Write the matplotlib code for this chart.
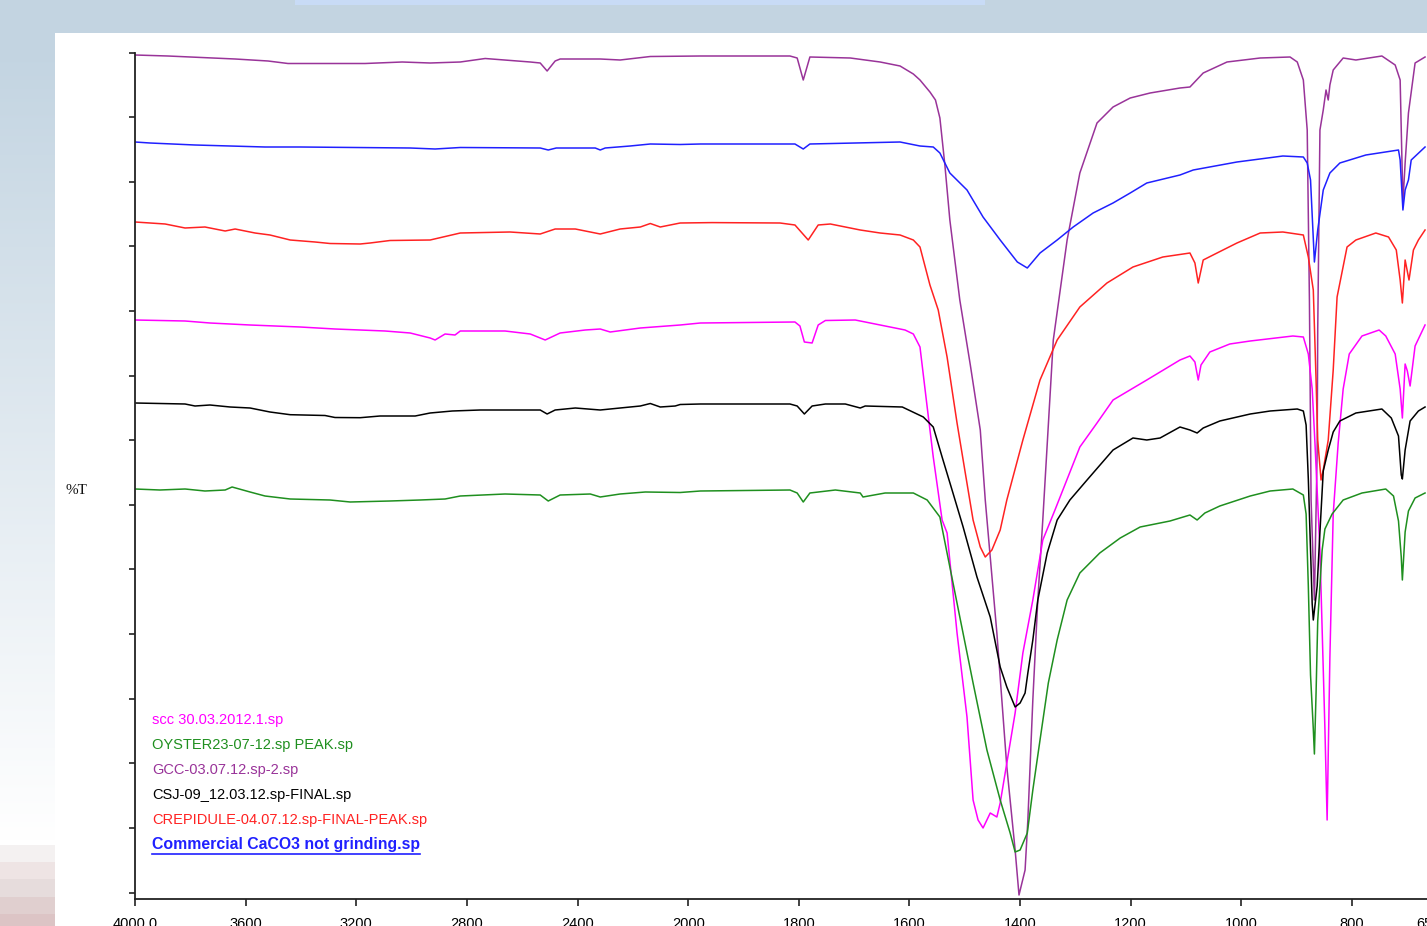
import numpy as np
import matplotlib
matplotlib.use('Agg')
import matplotlib.pyplot as plt
from matplotlib.lines import Line2D

# FTIR spectra, wavenumber (cm-1) and offset %T (arbitrary stacked units)
gcc_w = [4000, 3881, 3638, 3519, 3447, 3168, 3034, 2933, 2824, 2734, 2571, 2535, 2510, 2481, 2463,
         2318, 2246, 2137, 1978, 1816, 1803, 1792, 1780, 1707, 1653, 1617, 1593, 1581, 1563, 1553,
         1545, 1536, 1527, 1518, 1509, 1490, 1472, 1463, 1442, 1424, 1409, 1402, 1391, 1386, 1377,
         1368, 1359, 1340, 1315, 1292, 1261, 1232, 1201, 1165, 1111, 1093, 1069, 1026, 966, 912,
         899, 888, 881, 877, 874, 868, 863, 862, 858, 852, 847, 843, 840, 834, 816, 793, 746, 722,
         713, 711, 708, 704, 698, 686, 668]
gcc_t = [83.75, 83.65, 83.35, 83.15, 82.9, 82.9, 83.05, 82.95, 83.05, 83.4, 83.05, 82.95, 82.15, 83.15, 83.35,
         83.35, 83.25, 83.6, 83.65, 83.65, 83.45, 81.25, 83.55, 83.45, 83.05, 82.65, 81.85, 81.25, 80.05, 79.25,
         77.45, 72.75, 67.25, 63.25, 59.25, 52.75, 46.25, 39.25, 25.95, 12.55, 4.25, -0.25, 2.25, 7.25, 19.25,
         29.25, 37.25, 55.25, 65.25, 71.95, 76.95, 78.55, 79.45, 79.95, 80.45, 80.55, 81.95, 83.05, 83.45, 83.55,
         83.05, 81.25, 76.25, 59.25, 39.25, 29.25, 44.25, 56.25, 76.25, 78.25, 80.25, 79.25, 80.75, 82.25, 83.45, 83.25, 83.65, 82.75,
         81.25, 76.25, 69.0, 72.95, 77.95, 82.95, 83.55]

caco3_w = [4000, 3946, 3783, 3530, 3403, 3005, 2915, 2824, 2535, 2506, 2477, 2336, 2318, 2300, 2210,
           2137, 2029, 1978, 1807, 1792, 1780, 1698, 1617, 1581, 1557, 1545, 1527, 1496, 1467, 1436,
           1405, 1387, 1364, 1333, 1304, 1268, 1232, 1201, 1171, 1111, 1087, 1008, 925, 888, 881,
           875, 868, 862, 852, 840, 822, 775, 716, 713, 708, 704, 698, 693, 668]
caco3_t = [75.05, 74.95, 74.75, 74.55, 74.55, 74.45, 74.35, 74.5, 74.45, 74.25, 74.45, 74.45, 74.25, 74.45, 74.65,
           74.85, 74.8, 74.85, 74.85, 74.35, 74.85, 74.95, 75.05, 74.65, 74.55, 73.95, 71.95, 70.25, 67.55, 65.25,
           63.05, 62.45, 63.95, 65.25, 66.55, 67.95, 68.95, 69.95, 70.95, 71.75, 72.25, 73.05, 73.65, 73.55, 72.95,
           71.25, 63.05, 66.25, 70.25, 71.95, 72.95, 73.75, 74.25, 73.25, 68.25, 70.25, 71.25, 73.25, 74.55]

crep_w = [4000, 3891, 3819, 3747, 3674, 3638, 3566, 3512, 3439, 3349, 3295, 3186, 3150, 3078, 2933,
          2824, 2644, 2535, 2481, 2408, 2318, 2246, 2173, 2137, 2101, 2029, 1957, 1834, 1807, 1783,
          1765, 1743, 1689, 1653, 1617, 1593, 1581, 1563, 1548, 1532, 1514, 1500, 1485, 1472, 1463,
          1451, 1436, 1424, 1395, 1364, 1333, 1292, 1243, 1196, 1142, 1093, 1084, 1078, 1069, 1044,
          1008, 966, 925, 888, 879, 870, 865, 862, 856, 852, 843, 834, 827, 809, 793, 757, 734,
          720, 713, 709, 704, 697, 689, 680, 668]
crep_t = [67.05, 66.85, 66.45, 66.55, 66.15, 66.35, 65.95, 65.75, 65.25, 65.05, 64.9, 64.85, 64.95, 65.2, 65.25,
          65.95, 66.05, 65.85, 66.35, 66.35, 65.85, 66.35, 66.55, 66.9, 66.55, 66.95, 66.99, 66.95, 66.75, 65.25,
          66.75, 66.85, 66.25, 65.95, 65.75, 65.25, 64.55, 60.75, 58.25, 53.55, 46.95, 42.25, 37.25, 34.55, 33.55,
          34.25, 36.25, 39.25, 45.25, 51.25, 55.25, 58.55, 60.95, 62.55, 63.55, 63.95, 62.95, 60.95, 63.25, 63.95,
          64.95, 65.95, 66.05, 65.75, 63.55, 60.25, 51.25, 45.25, 41.25, 42.25, 45.25, 52.25, 59.55, 64.55, 65.25, 65.95, 65.55,
          64.25, 61.25, 58.95, 63.25, 61.25, 64.25, 65.25, 66.25]

scc_w = [4000, 3819, 3729, 3584, 3403, 3277, 3096, 3005, 2933, 2915, 2879, 2843, 2824, 2662, 2571,
         2517, 2463, 2372, 2318, 2282, 2173, 2029, 1978, 1807, 1798, 1790, 1776, 1765, 1752, 1698,
         1671, 1635, 1608, 1593, 1581, 1568, 1557, 1541, 1532, 1514, 1496, 1485, 1476, 1467, 1454,
         1442, 1436, 1424, 1409, 1395, 1377, 1359, 1337, 1292, 1261, 1232, 1171, 1111, 1093, 1084,
         1078, 1073, 1057, 1021, 984, 907, 888, 879, 872, 867, 858, 849, 845, 840, 834, 825, 816,
         805, 782, 751, 739, 722, 713, 709, 704, 700, 695, 686, 668]
scc_t = [57.25, 57.15, 56.95, 56.75, 56.55, 56.35, 56.15, 55.95, 55.45, 55.25, 55.85, 55.75, 56.15, 56.15, 55.85,
         55.25, 55.95, 56.25, 56.35, 56.05, 56.45, 56.75, 56.95, 57.05, 56.65, 55.05, 54.95, 56.75, 57.2, 57.25,
         56.95, 56.55, 56.25, 55.85, 54.55, 48.55, 43.55, 37.25, 35.95, 25.95, 17.55, 9.25, 7.25, 6.45, 7.95,
         7.55, 8.95, 12.95, 17.95, 23.95, 29.25, 35.25, 38.25, 44.55, 46.95, 49.25, 51.25, 53.25, 53.65, 53.05,
         51.25, 52.75, 54.05, 54.85, 55.15, 55.65, 55.55, 53.85, 50.35, 44.95, 34.25, 16.35, 7.25, 23.55, 37.85, 44.95, 50.35,
         53.85, 55.65, 56.25, 55.65, 53.85, 50.35, 47.45, 52.85, 52.15, 50.65, 54.65, 56.75]

csj_w = [4000, 3819, 3783, 3729, 3656, 3584, 3512, 3439, 3313, 3277, 3186, 3114, 2987, 2933, 2853,
         2752, 2535, 2510, 2481, 2408, 2318, 2246, 2173, 2137, 2101, 2047, 2029, 1978, 1816, 1803,
         1790, 1776, 1752, 1716, 1689, 1680, 1613, 1575, 1557, 1541, 1523, 1503, 1478, 1454, 1436,
         1424, 1409, 1400, 1391, 1386, 1377, 1368, 1351, 1333, 1310, 1279, 1232, 1196, 1171, 1147,
         1111, 1093, 1080, 1069, 1039, 984, 948, 899, 888, 883, 879, 875, 872, 870, 863, 858, 852,
         843, 834, 822, 793, 746, 729, 716, 711, 709, 704, 695, 680, 668]
csj_t = [48.95, 48.85, 48.65, 48.75, 48.55, 48.45, 48.05, 47.78, 47.7, 47.5, 47.48, 47.65, 47.65, 47.95, 48.15,
         48.25, 48.25, 47.85, 48.25, 48.45, 48.25, 48.45, 48.65, 48.9, 48.55, 48.65, 48.8, 48.85, 48.85, 48.65,
         47.85, 48.65, 48.85, 48.85, 48.45, 48.65, 48.55, 47.55, 46.55, 43.55, 40.25, 36.55, 31.55, 27.55, 22.55,
         20.55, 18.55, 18.95, 19.95, 21.95, 25.25, 29.25, 33.95, 37.25, 39.25, 41.25, 44.25, 45.45, 45.25, 45.45,
         46.55, 46.25, 45.95, 46.45, 47.15, 47.85, 48.15, 48.35, 48.15, 46.75, 41.35, 34.25, 28.85, 27.25, 30.65, 36.05, 42.15,
         44.25, 46.05, 47.15, 47.95, 48.35, 47.45, 45.65, 41.75, 41.35, 44.25, 47.15, 48.15, 48.55]

oyster_w = [4000, 3910, 3819, 3747, 3674, 3649, 3584, 3530, 3439, 3295, 3222, 3078, 2969, 2879, 2824,
            2662, 2535, 2506, 2463, 2354, 2318, 2246, 2155, 2029, 1978, 1816, 1803, 1792, 1780, 1734,
            1689, 1684, 1644, 1593, 1568, 1545, 1527, 1509, 1485, 1460, 1436, 1418, 1409, 1400, 1387,
            1377, 1364, 1349, 1333, 1315, 1292, 1256, 1219, 1183, 1129, 1093, 1080, 1066, 1039, 984,
            948, 907, 888, 883, 879, 875, 870, 868, 865, 862, 854, 849, 836, 816, 782, 739, 725,
            716, 711, 709, 704, 698, 686, 668]
oyster_t = [40.35, 40.25, 40.35, 40.15, 40.25, 40.55, 40.05, 39.65, 39.35, 39.25, 39.05, 39.15, 39.25, 39.35, 39.65,
            39.85, 39.75, 39.15, 39.75, 39.85, 39.55, 39.85, 40.05, 40.0, 40.15, 40.25, 39.95, 39.05, 39.95, 40.25,
            39.95, 39.55, 39.95, 39.95, 39.25, 37.55, 32.55, 27.55, 20.95, 14.25, 9.25, 5.95, 4.05, 4.25, 5.95,
            10.25, 15.25, 20.95, 25.25, 29.25, 31.95, 33.95, 35.45, 36.55, 37.15, 37.75, 37.25, 37.95, 38.65, 39.65,
            40.15, 40.35, 39.75, 37.85, 30.65, 21.75, 16.35, 13.85, 19.95, 27.15, 34.25, 36.35, 37.85, 39.25, 39.95, 40.35, 39.65,
            37.15, 33.55, 31.25, 36.05, 38.15, 39.45, 39.95]

xticks = [4000, 3600, 3200, 2800, 2400, 2000, 1800, 1600, 1400, 1200, 1000, 800, 650]
xtick_labels = ['4000.0', '3600', '3200', '2800', '2400', '2000', '1800', '1600',
                '1400', '1200', '1000', '800', '650.0']

legend_names = ['scc 30.03.2012.1.sp', 'OYSTER23-07-12.sp PEAK.sp', 'GCC-03.07.12.sp-2.sp',
                'CSJ-09_12.03.12.sp-FINAL.sp', 'CREPIDULE-04.07.12.sp-FINAL-PEAK.sp',
                'Commercial CaCO3 not grinding.sp']

c_purple = '#993399'
c_blue = '#2020ff'
c_red = '#ff2222'
c_mag = '#ff00ff'
c_black = '#000000'
c_green = '#1f8f1f'


def fwd(w):
    w = np.asarray(w, dtype=float)
    return np.where(w >= 2000, w, 2 * w - 2000)


def inv(x):
    x = np.asarray(x, dtype=float)
    return np.where(x >= 2000, x, (x + 2000) / 2)


W, H = 1427, 926
fig = plt.figure(figsize=(W / 100, H / 100), dpi=100)

# background (slide-like frame)
bg = fig.add_axes([0, 0, 1, 1], zorder=-10)
bg.axis('off')
base = np.array([0.768, 0.835, 0.886])
img = np.ones((H, W, 3)) * base
rows = np.arange(H)
t = np.clip((rows - 60) / 780.0, 0, 1)[:, None]
img[:, :55] = (base + (1 - base) * t)[:, None, :]
bands = [(845, 862, '#f4f1f1'), (862, 879, '#eee4e4'), (879, 897, '#e6dcdc'),
         (897, 914, '#e0cfcf'), (914, 926, '#dcc4c5')]
for r0, r1, c in bands:
    img[r0:r1, :55] = matplotlib.colors.to_rgb(c)
img[0:5, 295:985] = matplotlib.colors.to_rgb('#c8dbf6')
img[33:, 55:] = 1.0
bg.imshow(img, aspect='auto', extent=[0, 1, 0, 1], interpolation='nearest')
bg.set_xlim(0, 1)
bg.set_ylim(0, 1)

ax = fig.add_axes([135 / W, 1 - 899 / H, 1300 / W, (899 - 52.5) / H])
ax.set_facecolor('none')
ax.set_xscale('function', functions=(fwd, inv))
ax.set_xlim(4000, 650)
ax.set_ylim(-0.65, 84.0)

lw = 1.1
ax.plot(gcc_w, gcc_t, color=c_purple, lw=lw)
ax.plot(caco3_w, caco3_t, color=c_blue, lw=lw)
ax.plot(crep_w, crep_t, color=c_red, lw=lw)
ax.plot(scc_w, scc_t, color=c_mag, lw=lw)
ax.plot(csj_w, csj_t, color=c_black, lw=lw)
ax.plot(oyster_w, oyster_t, color=c_green, lw=lw)

ax.spines['top'].set_visible(False)
ax.spines['right'].set_visible(False)
for s in ['left', 'bottom']:
    ax.spines[s].set_color('#222222')
    ax.spines[s].set_linewidth(1.3)
ax.set_xticks(xticks)
ax.set_xticklabels(xtick_labels, fontfamily='Liberation Sans', fontsize=10.5)
ax.xaxis.set_minor_locator(matplotlib.ticker.NullLocator())
ax.set_yticks(np.linspace(0, 84, 14))
ax.set_yticklabels([])
ax.tick_params(axis='x', direction='out', length=5, width=1.2, pad=8, color='#222222')
ax.tick_params(axis='y', direction='out', length=4, width=1.2, color='#222222')

fig.text(65 / W, 1 - 491 / H, '%T', fontfamily='Liberation Serif', fontsize=11,
         va='center', ha='left', color='#111111')

leg_colors = [c_mag, c_green, c_purple, c_black, c_red, c_blue]
texts = []
for i, (name, col) in enumerate(zip(legend_names, leg_colors)):
    bold = (i == len(legend_names) - 1)
    tt = fig.text(152 / W, 1 - (720 + 25 * i) / H, name, color=col,
                  fontfamily='Liberation Sans', fontsize=11.4 if bold else 10.5,
                  fontweight='bold' if bold else 'normal', va='center', ha='left')
    texts.append(tt)

# underline the last legend entry
fig.canvas.draw()
bb = texts[-1].get_window_extent().transformed(fig.transFigure.inverted())
yline = bb.y0 - 1.0 / H
fig.add_artist(Line2D([bb.x0, bb.x1], [yline, yline], color=c_blue, lw=1.2,
                      transform=fig.transFigure))

fig.savefig('out.png', dpi=100)
